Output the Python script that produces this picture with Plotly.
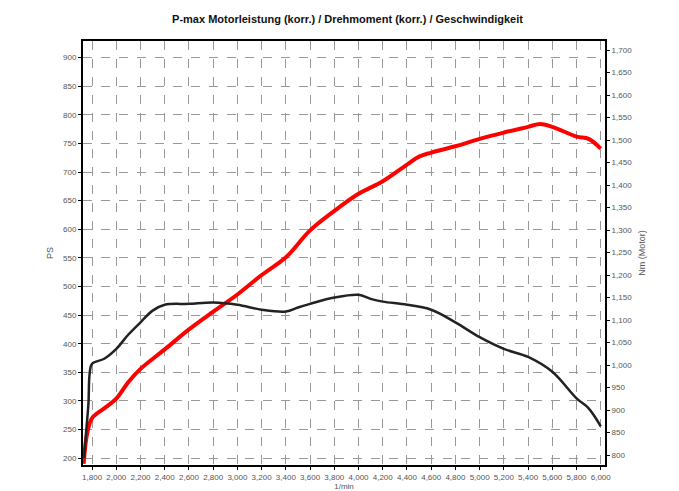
import plotly.graph_objects as go

# Leistung (PS), red
rpm_ps = [1730, 1760, 1800, 1900, 2000, 2100, 2200, 2400, 2600, 2800, 3000, 3200, 3400, 3600,
          3800, 4000, 4200, 4400, 4500, 4600, 4800, 5000, 5200, 5400, 5500, 5600, 5800, 5900, 6000]
ps = [190, 244, 270, 287, 304, 333, 356, 390, 425, 456, 486, 520, 551, 598,
      632, 662, 684, 713, 727, 734, 745, 758, 769, 779, 784, 779, 762, 758, 741]

# Drehmoment (Nm), black
rpm_nm = [1735, 1750, 1770, 1780, 1800, 1900, 2000, 2100, 2200, 2300, 2400, 2600, 2800, 3000,
          3200, 3400, 3500, 3600, 3800, 4000, 4100, 4200, 4400, 4600, 4800, 5000, 5200, 5400,
          5600, 5800, 5900, 6000]
nm = [794, 849, 915, 981, 1003, 1014, 1036, 1068, 1095, 1121, 1134, 1136, 1139, 1134,
      1123, 1119, 1128, 1136, 1150, 1156, 1147, 1141, 1134, 1123, 1095, 1062, 1036, 1018,
      985, 926, 904, 864]

tickfont = dict(family="Arial", size=8, color="#555")
grid = dict(showgrid=True, gridcolor="#999", griddash="dash", gridwidth=1,
            showline=True, linecolor="black", linewidth=2, ticks="outside",
            ticklen=3, tickcolor="black", tickfont=tickfont, zeroline=False)

fig = go.Figure()
fig.add_trace(go.Scatter(x=rpm_ps, y=ps, mode="lines", line=dict(color="#ff0000", width=4),
                         line_shape="spline", showlegend=False))
fig.add_trace(go.Scatter(x=rpm_nm, y=nm, mode="lines", yaxis="y2",
                         line=dict(color="#222", width=2.5), line_shape="spline", showlegend=False))

fig.update_layout(
    width=679, height=491,
    paper_bgcolor="white", plot_bgcolor="white",
    margin=dict(l=75, r=82, t=33, b=29),
    title=dict(text="P-max Motorleistung (korr.) / Drehmoment (korr.) / Geschwindigkeit",
               x=0.5, xanchor="center", y=0.985, yanchor="top",
               font=dict(family="Arial", size=11, color="#111", weight="bold")),
    xaxis=dict(range=[1725, 6035], tickmode="linear", tick0=1800, dtick=200, tickformat=",d",
               tickangle=0,
               title=dict(text="1/min", font=dict(family="Arial", size=8, color="#555"), standoff=0),
               mirror=True, **grid),
    yaxis=dict(range=[188, 929], tickmode="linear", tick0=200, dtick=50,
               title=dict(text="PS", font=dict(family="Arial", size=9, color="#555"), standoff=8),
               **grid),
    yaxis2=dict(range=[778, 1720], tickmode="linear", tick0=800, dtick=50, tickformat=",d",
                overlaying="y", side="right",
                title=dict(text="Nm (Motor)", font=dict(family="Arial", size=9, color="#555"), standoff=8),
                showgrid=False, showline=True, linecolor="black", linewidth=2, ticks="outside",
                ticklen=3, tickcolor="black", tickfont=tickfont, zeroline=False),
)

fig.write_html("out.html")
